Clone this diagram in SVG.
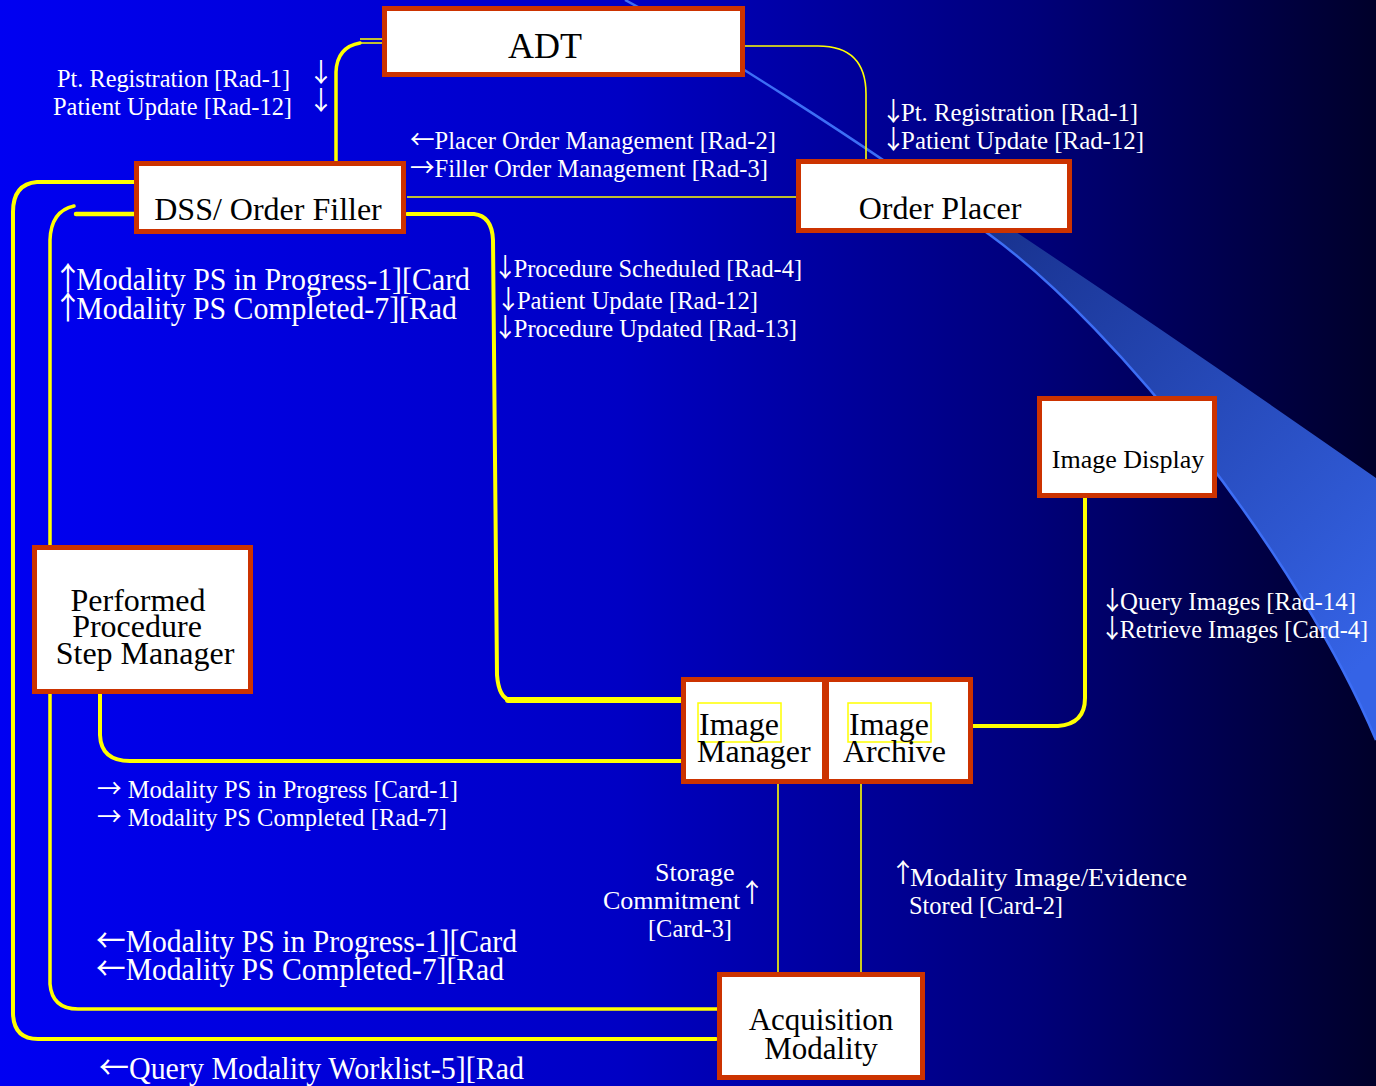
<svg xmlns="http://www.w3.org/2000/svg" width="1376" height="1086" viewBox="0 0 1376 1086">
<defs>
<linearGradient id="bg" x1="0" y1="0" x2="1" y2="0">
<stop offset="0" stop-color="#0000f2"/>
<stop offset="0.45" stop-color="#0000c4"/>
<stop offset="0.75" stop-color="#00007a"/>
<stop offset="1" stop-color="#00002a"/>
</linearGradient>
<linearGradient id="band" gradientUnits="userSpaceOnUse" x1="950" y1="200" x2="1376" y2="650">
<stop offset="0" stop-color="#162e88"/>
<stop offset="1" stop-color="#3563e6"/>
</linearGradient>
<style>
.box{fill:#ffffff;stroke:#cc3300;stroke-width:5}
.nt{font-family:"Liberation Serif","DejaVu Serif",serif;fill:#000;font-size:32px}
.lbl{font-family:"Liberation Serif","DejaVu Serif",serif;fill:#fff;font-size:26px}
.big{font-family:"Liberation Serif","DejaVu Serif",serif;fill:#fff;font-size:32px}
.ar{font-family:"Noto Sans CJK JP","DejaVu Sans",sans-serif}
.y{fill:none;stroke:#ffff00;stroke-linecap:round;stroke-linejoin:round}
.thin{fill:none;stroke:#ffff00;stroke-width:1.6}
.inner{fill:none;stroke:#ffff00;stroke-width:1.5}
</style>
</defs>
<rect x="0" y="0" width="1376" height="1086" fill="url(#bg)"/>
<path d="M930,175 Q1150,320 1376,478 L1376,740 C1300,560 1120,330 990,235 Z" fill="url(#band)"/>
<path d="M625,0 C700,40 860,140 990,235 C1120,330 1300,560 1376,740" fill="none" stroke="#3d6ef5" stroke-width="2.5"/>

<g id="connectors">
<path class="thin" d="M360,39 L382,39 M360,43 L382,43"/>
<path class="y" stroke-width="3.5" d="M360,43 Q337,47 336,72 L336,162"/>
<path class="thin" stroke-width="2" d="M745,46 L818,46 Q866,46 866,94 L866,162"/>
<path class="thin" d="M407,197 L797,197"/>
<path class="y" stroke-width="4" d="M134,182 L37,182 Q13,184 13,212 L13,1014 Q14,1039 38,1039 L716,1039"/>
<path class="y" stroke-width="4.5" d="M134,214 L76,214"/>
<path class="y" stroke-width="3.5" d="M74,206 Q51,211 50,240 L50,984 Q52,1009 78,1009 L718,1009"/>
<path class="y" stroke-width="4" d="M100,693 L100,735 Q101,761 130,761 L682,761"/>
<path class="y" stroke-width="4" d="M407,214 L474,214 Q492,216 493,240 L497,675 Q499,700 512,700"/>
<path class="y" stroke-width="6" d="M508,700 L682,700"/>
<path class="y" stroke-width="4" d="M971,726 L1058,726 Q1085,724 1085,698 L1085,497"/>
<path class="thin" d="M778,783 L778,973"/>
<path class="thin" d="M861,783 L861,973"/>
</g>

<g id="adt"><rect class="box" x="384.5" y="8.5" width="358" height="66"/><text class="nt" x="545" y="58" text-anchor="middle" style="font-size:36px">ADT</text></g>
<g id="dss"><rect class="box" x="136.5" y="163.5" width="267" height="68"/><text class="nt" x="268" y="220" text-anchor="middle">DSS/ Order Filler</text></g>
<g id="orderplacer"><rect class="box" x="798.5" y="161.5" width="271" height="69"/><text class="nt" x="940" y="219" text-anchor="middle">Order Placer</text></g>
<g id="imagedisplay"><rect class="box" x="1039.5" y="398.5" width="175" height="97"/><text class="nt" x="1128" y="468" text-anchor="middle" style="font-size:26px">Image Display</text></g>
<g id="ppsm"><rect class="box" x="34.5" y="547.5" width="216" height="144"/>
<text class="nt" x="138" y="611" text-anchor="middle">Performed</text>
<text class="nt" x="137" y="637" text-anchor="middle">Procedure</text>
<text class="nt" x="145" y="664" text-anchor="middle">Step Manager</text></g>
<g id="imagemanager"><rect class="box" x="683.5" y="679.5" width="141" height="102"/><rect class="inner" x="698" y="703" width="83" height="39"/>
<text class="nt" x="699" y="735">Image</text><text class="nt" x="697" y="762">Manager</text></g>
<g id="imagearchive"><rect class="box" x="826.5" y="679.5" width="144" height="102"/><rect class="inner" x="848" y="703" width="83" height="39"/>
<text class="nt" x="849" y="735">Image</text><text class="nt" x="843" y="762">Archive</text></g>
<g id="acquisition"><rect class="box" x="719.5" y="974.5" width="203" height="103"/>
<text class="nt" x="821" y="1030" text-anchor="middle" style="font-size:31px">Acquisition</text>
<text class="nt" x="821" y="1059" text-anchor="middle" style="font-size:31px">Modality</text></g>

<g id="labels">
<text class="lbl" x="57" y="87" textLength="233" lengthAdjust="spacingAndGlyphs">Pt. Registration [Rad-1]</text>
<text class="lbl" x="53" y="115" textLength="239" lengthAdjust="spacingAndGlyphs">Patient Update [Rad-12]</text>
<text class="lbl ar" x="321" y="82" text-anchor="middle">↓</text>
<text class="lbl ar" x="321" y="110" text-anchor="middle">↓</text>
<text class="lbl" x="410" y="149" textLength="366" lengthAdjust="spacingAndGlyphs"><tspan class="ar">←</tspan>Placer Order Management [Rad-2]</text>
<text class="lbl" x="410" y="177" textLength="358" lengthAdjust="spacingAndGlyphs"><tspan class="ar">→</tspan>Filler Order Management [Rad-3]</text>
<text class="lbl" x="881" y="121" textLength="257" lengthAdjust="spacingAndGlyphs"><tspan class="ar">↓</tspan><tspan dx="-5">Pt. Registration [Rad-1]</tspan></text>
<text class="lbl" x="881" y="149" textLength="263" lengthAdjust="spacingAndGlyphs"><tspan class="ar">↓</tspan><tspan dx="-5">Patient Update [Rad-12]</tspan></text>
<text class="big" x="53" y="290" textLength="417" lengthAdjust="spacingAndGlyphs"><tspan class="ar">↑</tspan><tspan dx="-7">Modality PS in Progress-1][Card</tspan></text>
<text class="big" x="53" y="319" textLength="404" lengthAdjust="spacingAndGlyphs"><tspan class="ar">↑</tspan><tspan dx="-7">Modality PS Completed-7][Rad</tspan></text>
<text class="lbl" x="493" y="277" textLength="309" lengthAdjust="spacingAndGlyphs"><tspan class="ar">↓</tspan><tspan dx="-4">Procedure Scheduled [Rad-4]</tspan></text>
<text class="lbl" x="496" y="309" textLength="262" lengthAdjust="spacingAndGlyphs"><tspan class="ar">↓</tspan><tspan dx="-4">Patient Update [Rad-12]</tspan></text>
<text class="lbl" x="493" y="337" textLength="304" lengthAdjust="spacingAndGlyphs"><tspan class="ar">↓</tspan><tspan dx="-4">Procedure Updated [Rad-13]</tspan></text>
<text class="lbl" x="1100" y="610" textLength="256" lengthAdjust="spacingAndGlyphs"><tspan class="ar">↓</tspan><tspan dx="-5">Query Images [Rad-14]</tspan></text>
<text class="lbl" x="1100" y="638" textLength="268" lengthAdjust="spacingAndGlyphs"><tspan class="ar">↓</tspan><tspan dx="-5">Retrieve Images [Card-4]</tspan></text>
<text class="lbl" x="97" y="798" textLength="361" lengthAdjust="spacingAndGlyphs"><tspan class="ar">→</tspan> Modality PS in Progress [Card-1]</text>
<text class="lbl" x="97" y="826" textLength="350" lengthAdjust="spacingAndGlyphs"><tspan class="ar">→</tspan> Modality PS Completed [Rad-7]</text>
<text class="lbl" x="655" y="881">Storage</text>
<text class="lbl" x="603" y="909">Commitment</text>
<text class="lbl ar" x="752" y="902" text-anchor="middle">↑</text>
<text class="lbl" x="648" y="937" textLength="84" lengthAdjust="spacingAndGlyphs">[Card-3]</text>
<text class="lbl ar" x="903" y="882" text-anchor="middle">↑</text>
<text class="lbl" x="910" y="886" textLength="277" lengthAdjust="spacingAndGlyphs">Modality Image/Evidence</text>
<text class="lbl" x="909" y="914" textLength="154" lengthAdjust="spacingAndGlyphs">Stored [Card-2]</text>
<text class="big" x="96" y="952" textLength="421" lengthAdjust="spacingAndGlyphs"><tspan class="ar">←</tspan>Modality PS in Progress-1][Card</text>
<text class="big" x="96" y="980" textLength="408" lengthAdjust="spacingAndGlyphs"><tspan class="ar">←</tspan>Modality PS Completed-7][Rad</text>
<text class="big" x="99" y="1079" textLength="425" lengthAdjust="spacingAndGlyphs"><tspan class="ar">←</tspan>Query Modality Worklist-5][Rad</text>
</g>
</svg>
